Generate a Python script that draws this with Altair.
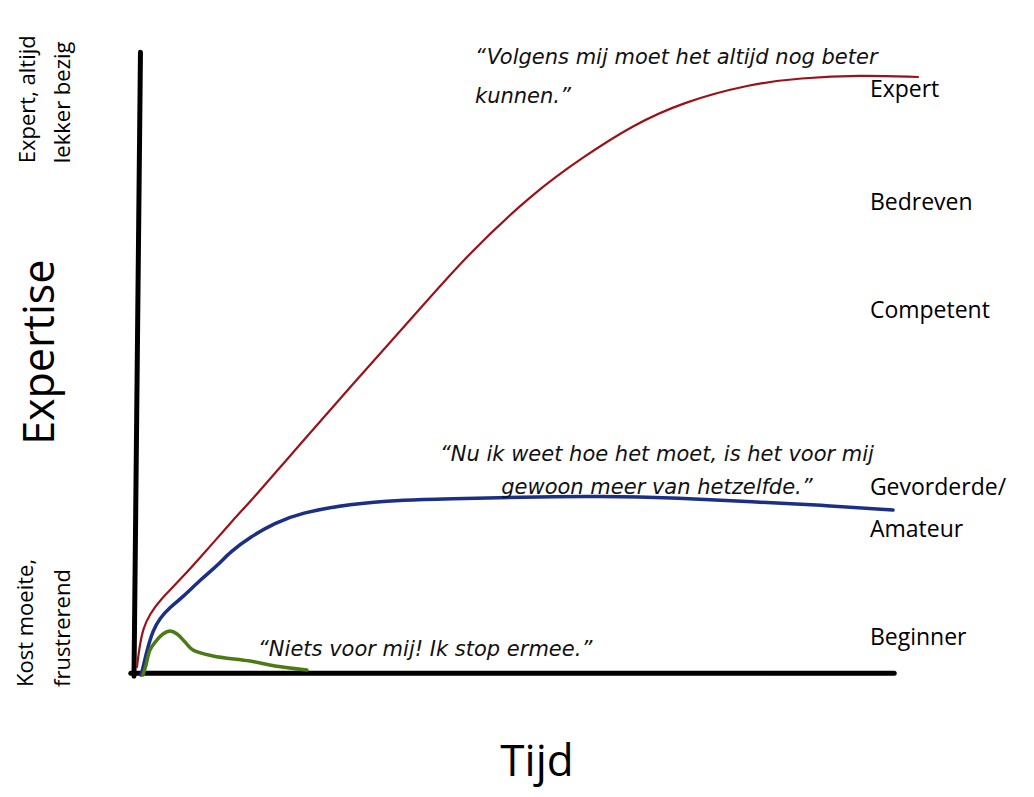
import altair as alt
import pandas as pd

# ---- data (Tijd on x, Expertise on y; arbitrary 0-100 units) ----
red_t = [0.26, 0.53, 1.05, 1.97, 3.29, 5.92, 9.47, 12.89, 15.53, 19.08, 21.71, 28.29,
         36.58, 43.68, 52.37, 58.95, 65.53, 72.11, 80.92, 87.5, 95.39, 103.03]
red_e = [1.33, 4.17, 7.83, 10.17, 12.5, 15.83, 20.83, 25.83, 29.4, 34.6, 38.4, 48.0,
         59.67, 70.0, 80.33, 86.33, 91.67, 95.5, 98.5, 99.5, 100.0, 99.67]

blue_t = [0.79, 1.05, 1.58, 2.37, 3.29, 4.61, 6.32, 8.55, 10.79, 12.5, 15.13, 18.42,
          21.71, 28.29, 34.87, 41.45, 50.66, 61.18, 71.71, 81.32, 90.13, 99.74]
blue_e = [0.0, 1.17, 4.17, 7.5, 9.5, 11.33, 13.0, 15.83, 18.17, 20.5, 23.0, 25.33,
          27.0, 28.5, 29.17, 29.33, 29.67, 29.83, 29.5, 28.83, 28.33, 27.5]

green_t = [1.05, 1.45, 1.97, 2.89, 3.68, 4.61, 5.53, 6.58, 7.63, 10.26, 15.13, 18.42, 22.63]
green_e = [0.0, 1.67, 4.17, 5.83, 6.83, 7.33, 6.83, 5.5, 4.17, 3.17, 2.33, 1.5, 0.83]

level_labels = ["Expert", "Bedreven", "Competent", "Gevorderde/", "Amateur", "Beginner"]
level_e = [96.3, 77.5, 59.5, 30.0, 23.0, 5.0]

quote_lines = ["\u201cVolgens mij moet het altijd nog beter", "kunnen.\u201d",
               "\u201cNu ik weet hoe het moet, is het voor mij", "gewoon meer van hetzelfde.\u201d",
               "\u201cNiets voor mij!  Ik stop ermee.\u201d"]
quote_t = [44.74, 44.74, 68.68, 68.68, 16.18]
quote_e = [102.83, 96.33, 36.67, 31.17, 4.17]
quote_align = ["left", "left", "center", "center", "left"]

left_texts = ["Expert, altijd", "lekker bezig", "Kost moeite,", "frustrerend"]
left_t = [-13.2, -8.5, -13.45, -8.5]
left_e = [85.3, 85.3, -2.0, -2.0]

xs = alt.Scale(domain=[-16.71, 117.24], nice=False, zero=False)
ys = alt.Scale(domain=[-19.0, 111.17], nice=False, zero=False)


def line_layer(ts, es, color, width, interp="linear"):
    df = pd.DataFrame({"t": ts, "e": es, "i": range(len(ts))})
    return alt.Chart(df).mark_line(color=color, strokeWidth=width, interpolate=interp,
                                   strokeCap="round").encode(
        x=alt.X("t:Q", scale=xs, axis=None),
        y=alt.Y("e:Q", scale=ys, axis=None),
        order="i:Q")


# axes as thick black lines
yaxis = line_layer([0.72, -0.13], [103.8, -0.2], "black", 5)
xaxis = line_layer([-0.55, 99.9], [0.3, 0.3], "black", 5)

red = line_layer(red_t, red_e, "#9A1218", 2.2, "basis")
blue = line_layer(blue_t, blue_e, "#1B2F86", 3.5, "basis")
green = line_layer(green_t, green_e, "#4C7A14", 3.5, "catmull-rom")

FONT = "Open Sans"

levels_df = pd.DataFrame({"label": level_labels, "e": level_e, "t": [96.7] * len(level_labels)})
levels = alt.Chart(levels_df).mark_text(align="left", baseline="alphabetic", font=FONT,
                                        fontSize=23, color="black").encode(
    x=alt.X("t:Q", scale=xs, axis=None), y=alt.Y("e:Q", scale=ys, axis=None), text="label:N")

quotes = []
for txt, qt, qe, al in zip(quote_lines, quote_t, quote_e, quote_align):
    qdf = pd.DataFrame({"label": [txt], "t": [qt], "e": [qe]})
    quotes.append(alt.Chart(qdf).mark_text(align=al, baseline="middle", font="DejaVu Sans",
                                           fontStyle="italic", fontSize=21, color="#111").encode(
        x=alt.X("t:Q", scale=xs, axis=None), y=alt.Y("e:Q", scale=ys, axis=None), text="label:N"))

left_df = pd.DataFrame({"label": left_texts, "t": left_t, "e": left_e})
left = alt.Chart(left_df).mark_text(align="left", baseline="alphabetic", angle=270, font=FONT,
                                    fontSize=22, color="black").encode(
    x=alt.X("t:Q", scale=xs, axis=None), y=alt.Y("e:Q", scale=ys, axis=None), text="label:N")

big_df = pd.DataFrame({"label": ["Expertise"], "t": [-10.6], "e": [53.8]})
big = alt.Chart(big_df).mark_text(align="center", baseline="alphabetic", angle=270, font=FONT,
                                  fontSize=43, color="black").encode(
    x=alt.X("t:Q", scale=xs, axis=None), y=alt.Y("e:Q", scale=ys, axis=None), text="label:N")

tijd_df = pd.DataFrame({"label": ["Tijd"], "t": [52.9], "e": [-16.9]})
tijd = alt.Chart(tijd_df).mark_text(align="center", baseline="alphabetic", font=FONT,
                                    fontSize=44, color="black").encode(
    x=alt.X("t:Q", scale=xs, axis=None), y=alt.Y("e:Q", scale=ys, axis=None), text="label:N")

chart = alt.layer(yaxis, xaxis, red, blue, green, levels, *quotes, left, big, tijd).properties(
    width=1018, height=781, autosize=alt.AutoSizeParams(type="none"), padding=0,
    background="white"
).configure_view(stroke=None)

chart.save("out.html", embed_options={"renderer": "svg", "actions": False})
